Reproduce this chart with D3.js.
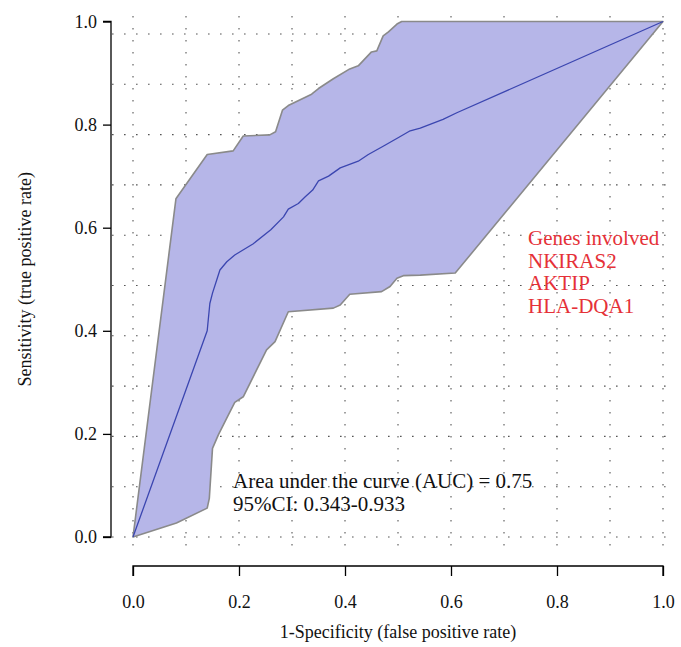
<!DOCTYPE html>
<html>
<head>
<meta charset="utf-8">
<script src="https://cdn.jsdelivr.net/npm/d3@7"></script>
<style>
  html, body { margin: 0; padding: 0; background: #fff; }
  svg text { font-family: "Liberation Serif", "DejaVu Serif", serif; }
</style>
</head>
<body>
<svg id="chart" width="681" height="647"></svg>
<script>
// ---- data ----
const upperFPR = [0, 0.081, 0.140, 0.189, 0.208, 0.258, 0.269, 0.282, 0.293, 0.337, 0.350, 0.378, 0.409, 0.425, 0.450, 0.460, 0.472, 0.482, 0.498, 0.507, 1];
const upperTPR = [0, 0.656, 0.742, 0.749, 0.778, 0.780, 0.786, 0.828, 0.837, 0.859, 0.870, 0.889, 0.908, 0.914, 0.941, 0.943, 0.972, 0.980, 0.995, 1.0, 1.0];

const lowerFPR = [0, 0.082, 0.140, 0.144, 0.150, 0.161, 0.180, 0.192, 0.208, 0.252, 0.268, 0.293, 0.378, 0.391, 0.409, 0.469, 0.485, 0.498, 0.510, 0.542, 0.608, 1];
const lowerTPR = [0, 0.027, 0.056, 0.075, 0.172, 0.198, 0.237, 0.261, 0.272, 0.363, 0.379, 0.437, 0.444, 0.450, 0.471, 0.476, 0.486, 0.502, 0.507, 0.508, 0.512, 1];

const curveFPR = [0, 0.140, 0.145, 0.150, 0.159, 0.164, 0.177, 0.192, 0.227, 0.260, 0.284, 0.293, 0.312, 0.325, 0.339, 0.350, 0.369, 0.391, 0.425, 0.444, 0.472, 0.501, 0.523, 0.542, 0.585, 0.611, 1];
const curveTPR = [0, 0.400, 0.453, 0.473, 0.502, 0.518, 0.534, 0.547, 0.569, 0.596, 0.621, 0.636, 0.647, 0.660, 0.673, 0.691, 0.700, 0.716, 0.729, 0.742, 0.758, 0.775, 0.788, 0.793, 0.810, 0.823, 1];

const xTicks = [0, 0.2, 0.4, 0.6, 0.8, 1.0];
const yTicks = [0, 0.2, 0.4, 0.6, 0.8, 1.0];

const xLabel = "1-Specificity (false positive rate)";
const yLabel = "Sensitivity (true positive rate)";
const aucLines = ["Area under the curve (AUC) = 0.75", "95%CI: 0.343-0.933"];
const geneLines = ["Genes involved", "NKIRAS2", "AKTIP", "HLA-DQA1"];

// ---- layout ----
const svg = d3.select("#chart");
const x = d3.scaleLinear().domain([0, 1]).range([133, 663]);
const y = d3.scaleLinear().domain([0, 1]).range([537, 21.5]);

// grid (dotted), vertical at every 0.1 in x, horizontal evenly spaced
const grid = svg.append("g").attr("stroke", "#555").attr("stroke-width", 1.1)
  .attr("stroke-dasharray", "1.6,10.4");
d3.range(0, 11).forEach(i => {
  const gx = x(i / 10);
  grid.append("line").attr("x1", gx).attr("x2", gx).attr("y1", 16).attr("y2", 555);
});
const gStep = (y(0) - 34) / 10;
d3.range(0, 11).forEach(i => {
  const gy = y(0) - i * gStep;
  grid.append("line").attr("x1", 112).attr("x2", 666).attr("y1", gy).attr("y2", gy);
});

// confidence band
const upper = upperFPR.map((v, i) => [v, upperTPR[i]]);
const lower = lowerFPR.map((v, i) => [v, lowerTPR[i]]);
const bandPts = upper.concat(lower.slice().reverse());
svg.append("path")
  .attr("d", d3.line().x(d => x(d[0])).y(d => y(d[1]))(bandPts) + "Z")
  .attr("fill", "#b6b6e8")
  .attr("stroke", "#8a8a8a")
  .attr("stroke-width", 1.6)
  .attr("stroke-linejoin", "round");

// ROC curve
const curve = curveFPR.map((v, i) => [v, curveTPR[i]]);
svg.append("path")
  .attr("d", d3.line().x(d => x(d[0])).y(d => y(d[1]))(curve))
  .attr("fill", "none")
  .attr("stroke", "#3b46b0")
  .attr("stroke-width", 1.3)
  .attr("stroke-linejoin", "round");

// axes
const xAxis = svg.append("g").attr("transform", "translate(0,566)")
  .call(d3.axisBottom(x).tickValues(xTicks).tickFormat(d3.format(".1f")).tickSize(10).tickPadding(19));
const yAxis = svg.append("g").attr("transform", "translate(111,0)")
  .call(d3.axisLeft(y).tickValues(yTicks).tickFormat(d3.format(".1f")).tickSize(8).tickPadding(6));
[xAxis, yAxis].forEach(a => {
  a.select(".domain").attr("stroke", "#000").attr("stroke-width", 1.3);
  a.selectAll(".tick line").attr("stroke", "#000").attr("stroke-width", 1.3);
  a.selectAll(".tick text").attr("fill", "#111").style("font-size", "18px")
    .style("font-family", '"Liberation Serif", serif');
});
xAxis.select(".domain").attr("d", `M${x(0)},10V0H${x(1)}V10`);
yAxis.select(".domain").attr("d", `M-8,${y(1)}H0V${y(0)}H-8`);

// axis titles
svg.append("text").attr("x", (x(0) + x(1)) / 2).attr("y", 638)
  .attr("text-anchor", "middle").attr("fill", "#111").style("font-size", "18px").text(xLabel);
svg.append("text").attr("transform", `translate(31,${(y(0) + y(1)) / 2}) rotate(-90)`)
  .attr("text-anchor", "middle").attr("fill", "#111").style("font-size", "18px").text(yLabel);

// annotations
svg.append("g").selectAll("text").data(aucLines).join("text")
  .attr("x", 233).attr("y", (d, i) => 488 + i * 23)
  .attr("fill", "#111").style("font-size", "21px").text(d => d);
svg.append("g").selectAll("text").data(geneLines).join("text")
  .attr("x", 528).attr("y", (d, i) => 245 + i * 22.7)
  .attr("fill", "#e53138").style("font-size", "21px").text(d => d);
</script>
</body>
</html>
